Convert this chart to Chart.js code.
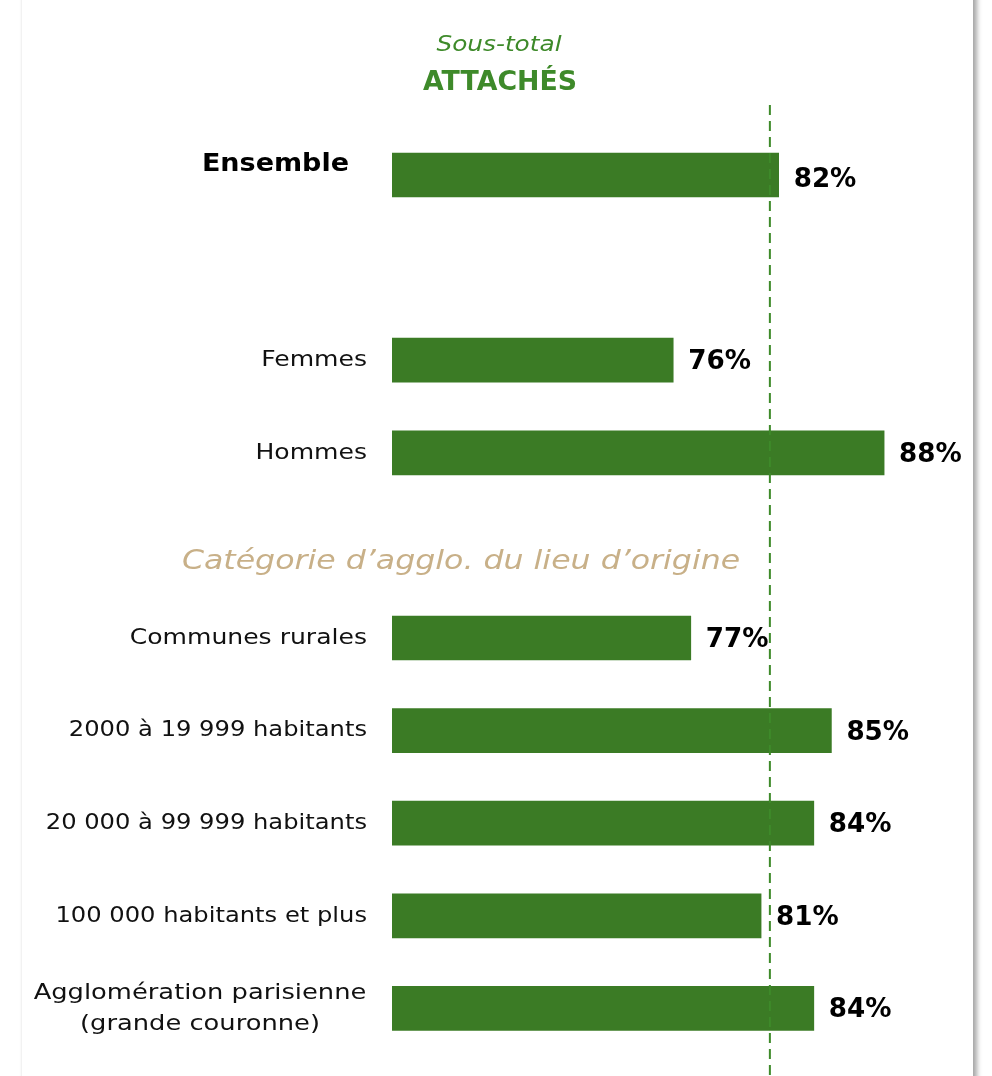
<!DOCTYPE html>
<html><head><meta charset="utf-8">
<script src="https://cdn.jsdelivr.net/npm/chart.js@4/dist/chart.umd.min.js"></script>
<style>
html,body{margin:0;padding:0;background:#fff;width:992px;height:1076px;overflow:hidden;}
#card{position:absolute;left:22px;top:-20px;width:951px;height:1120px;background:#fff;box-shadow:4px 0 5px rgba(0,0,0,0.35), -1px 0 2px rgba(0,0,0,0.06);}
#wrap{position:absolute;left:0;top:0;width:992px;height:1076px;}
</style></head>
<body>
<div id="card"></div>
<div id="wrap"><canvas id="c" width="992" height="1076"></canvas></div>
<script>
const categories = ["Ensemble", "", "Femmes", "Hommes", "__header__", "Communes rurales", "2000 à 19 999 habitants", "20 000 à 99 999 habitants", "100 000 habitants et plus", ["Agglomération parisienne", "(grande couronne)"]];
const values = [82, null, 76, 88, null, 77, 85, 84, 81, 84];
const valueLabels = ["82%", "", "76%", "88%", "", "77%", "85%", "84%", "81%", "84%"];
const referenceValue = 81.5;
const titleTop = "Sous-total";
const titleMain = "ATTACHÉS";
const sectionHeader = "Catégorie d’agglo. du lieu d’origine";

const FONT = "'DejaVu Sans', sans-serif";
const GREEN = "#3B7B25";

function txt(ctx, s, x, y, sx) {
  ctx.save();
  ctx.translate(x, y);
  ctx.scale(sx, 1);
  ctx.fillText(s, 0, 0);
  ctx.restore();
}

const overlay = {
  id: 'overlay',
  afterDatasetsDraw(chart) {
    const ctx = chart.ctx, x = chart.scales.x, y = chart.scales.y;
    ctx.save();
    const rx = x.getPixelForValue(referenceValue);
    ctx.strokeStyle = "#3E8A2A";
    ctx.lineWidth = 2;
    ctx.setLineDash([10, 6]);
    ctx.beginPath(); ctx.moveTo(rx, 105); ctx.lineTo(rx, 1076); ctx.stroke();
    ctx.setLineDash([]);
    ctx.textAlign = "center"; ctx.textBaseline = "middle";
    ctx.fillStyle = "#3E8A2A";
    ctx.font = "italic 21px " + FONT;
    txt(ctx, titleTop, 499, 46, 1.18);
    ctx.font = "bold 26px " + FONT;
    txt(ctx, titleMain, 500, 83, 1.03);
    categories.forEach((c, i) => {
      const cy = y.getPixelForValue(i);
      if (c === "__header__") {
        ctx.fillStyle = "#C8B088";
        ctx.font = "italic 27px " + FONT;
        ctx.textAlign = "center";
        txt(ctx, sectionHeader, 461, cy + 17, 1.17);
        return;
      }
      if (Array.isArray(c)) {
        ctx.fillStyle = "#111";
        ctx.font = "22px " + FONT;
        ctx.textAlign = "center";
        txt(ctx, c[0], 200, cy - 15, 1.17);
        txt(ctx, c[1], 200, cy + 16, 1.17);
      } else if (i === 0) {
        ctx.fillStyle = "#000";
        ctx.font = "bold 25px " + FONT;
        ctx.textAlign = "right";
        txt(ctx, c, 349, cy - 11, 1.08);
      } else if (c) {
        ctx.fillStyle = "#111";
        ctx.font = "22px " + FONT;
        ctx.textAlign = "right";
        txt(ctx, c, 367, cy, /\d/.test(c) ? 1.1 : 1.14);
      }
      if (values[i] != null) {
        const vx = x.getPixelForValue(values[i]);
        ctx.fillStyle = "#000";
        ctx.font = "bold 27px " + FONT;
        ctx.textAlign = "left";
        txt(ctx, valueLabels[i], vx + 15, cy + (i === 0 ? 5 : 2), 0.97);
      }
    });
    ctx.restore();
  }
};

new Chart(document.getElementById('c'), {
  type: 'bar',
  data: {
    labels: categories.map(c => Array.isArray(c) ? c.join(' ') : c),
    datasets: [{
      data: values.map(v => v == null ? null : [60, v]),
      backgroundColor: GREEN,
      borderWidth: 0,
      barThickness: 44,
      borderSkipped: false
    }]
  },
  options: {
    indexAxis: 'y',
    responsive: false,
    animation: false,
    layout: { padding: { left: 392, right: 20, top: 128.7, bottom: 21.3 } },
    scales: {
      x: { display: false, min: 60, max: 93, grid: { display: false } },
      y: { display: false, grid: { display: false }, offset: true }
    },
    plugins: { legend: { display: false }, tooltip: { enabled: false } }
  },
  plugins: [overlay]
});
</script>
</body></html>
